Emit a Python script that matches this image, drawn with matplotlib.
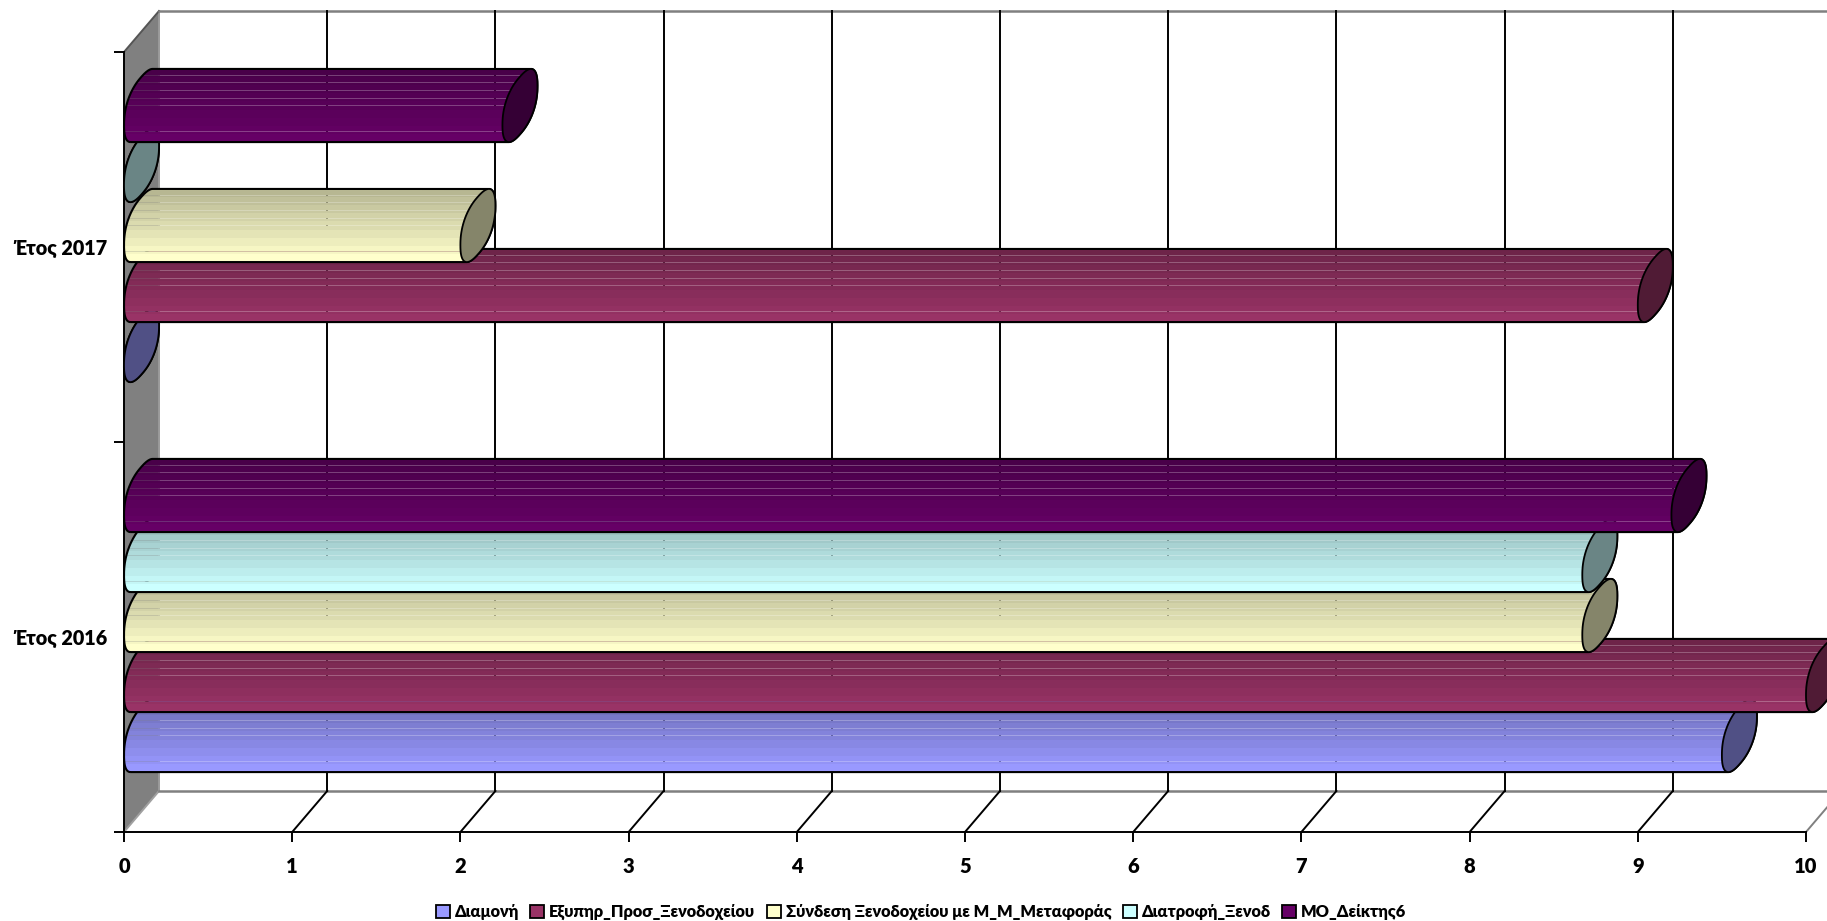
import numpy as np
import matplotlib
matplotlib.use("Agg")
import matplotlib.pyplot as plt
from matplotlib.patches import Patch, Polygon, PathPatch
from matplotlib.path import Path

plt.rcParams["font.family"] = ["Lato", "Open Sans", "DejaVu Sans"]
plt.rcParams["font.weight"] = "heavy"

categories = ["Έτος 2016", "Έτος 2017"]
series_names = ["Διαμονή", "Εξυπηρ_Προσ_Ξενοδοχείου", "Σύνδεση Ξενοδοχείου με Μ_Μ_Μεταφοράς",
                "Διατροφή_Ξενοδ", "ΜΟ_Δείκτης6"]
diamoni = [9.5, 0]
exypir = [10, 9]
syndesi = [8.67, 2]
diatrofi = [8.67, 0]
mo_deiktis = [9.2, 2.25]
series_values = [diamoni, exypir, syndesi, diatrofi, mo_deiktis]
colors = ["#9999FF", "#993366", "#FFFFCC", "#CCFFFF", "#660066"]
x_ticks = list(range(11))

fig = plt.figure(figsize=(18.27, 9.21), dpi=100)
ax = fig.add_axes([124 / 1827, 89 / 921, 1682 / 1827, 780 / 921])
ax.patch.set_visible(False)

# oblique 3d offset of the back wall, in data units
DX = 35 / 168.2
DY = 41 / 390
BAR_H = 1 / 6.5
GAP = 0.75 * BAR_H + 1 / 390
WALL = "#808080"

# walls and grid
ax.add_patch(Polygon([(0, 0), (0, 2), (DX, 2 + DY), (DX, DY)], fc=WALL, ec="none", zorder=1, clip_on=False))
ax.plot([DX, DX], [DY, 2 + DY], color="#9a9a9a", lw=1.4, zorder=1.1, clip_on=False)
ax.plot([0, DX], [2, 2 + DY], color="#555555", lw=1.4, zorder=1.1, clip_on=False)
ax.plot([0, DX], [0, DY], color="#a0a0a0", lw=1.4, zorder=1.1, clip_on=False)
ax.plot([DX, 10 + DX], [2 + DY, 2 + DY], color=WALL, lw=1.8, zorder=1.1, clip_on=False)
ax.plot([DX, 10 + DX], [DY, DY], color=WALL, lw=1.8, zorder=1.1, clip_on=False)
for t in x_ticks[1:]:
    ax.plot([t + DX, t + DX], [DY, 2 + DY], color="black", lw=1.4, zorder=1.2, clip_on=False)
    ax.plot([t, t + DX], [0, DY], color=WALL if t == 10 else "black", lw=1.4, zorder=1.2, clip_on=False)

streaks = [0.10, 0.19, 0.30, 0.41, 0.51, 0.86]

# the end caps in the picture are blobbier than a true ellipse
ts = np.linspace(0, 2 * np.pi, 241)[:-1]
us = np.sign(np.cos(ts)) * np.abs(np.cos(ts)) ** 0.85
vs = np.sign(np.sin(ts)) * np.abs(np.sin(ts)) ** 0.85
cap_x = 0.5 * vs * DX
cap_y = 0.96 * 0.5 * (us * BAR_H + vs * DY)
i_top = int(np.argmax(cap_y))
i_low = int(np.argmin(cap_y))
# walk from the top point through the left side to the lowest point
left_idx = np.arange(i_low, i_top + len(ts) + 1) % len(ts) if i_low > i_top else np.arange(i_low, i_top + 1)
right_idx = np.arange(i_top, i_low + 1) if i_low > i_top else np.arange(i_top, i_low + len(ts) + 1) % len(ts)


def gradient(color):
    rgb = np.array(matplotlib.colors.to_rgb(color))
    rows = 74
    img = np.ones((rows, 1, 4))
    for r in range(rows):
        band = np.floor(r / rows * 9) / 8
        img[r, 0, :3] = rgb * (0.72 + 0.28 * band)
    for f in streaks:
        img[int(f * rows), 0, 3] = 0.75
    return img


def draw_bar(value, low, color, z):
    cx = DX / 2
    cy = low + BAR_H / 2 + DY / 2
    left = np.column_stack([cx + cap_x[left_idx], cy + cap_y[left_idx]])
    right = np.column_stack([value + cx + cap_x[right_idx], cy + cap_y[right_idx]])
    pts = np.vstack([left, right, left[:1]])
    body = PathPatch(Path(pts), fc="none", ec="black", lw=1.5, zorder=z + 0.01, clip_on=False)
    ax.add_patch(body)
    if value > 0:
        im = ax.imshow(gradient(color), extent=[0, value + DX, cy + cap_y.min(), cy + cap_y.max()], aspect="auto",
                       interpolation="nearest", zorder=z)
        im.set_clip_box(fig.bbox)
        im.set_clip_path(body)
    cap = np.column_stack([value + cx + cap_x, cy + cap_y])
    ax.add_patch(Polygon(cap, fc=np.array(matplotlib.colors.to_rgb(color)) * 0.52, ec="black", lw=1.3,
                         zorder=z + 0.02, clip_on=False))


for c in range(len(categories)):
    for i, vals in enumerate(series_values):
        draw_bar(vals[c], c + GAP + i * BAR_H, colors[i], 3 + i * 0.1)

ax.set_xlim(0, 10)
ax.set_ylim(0, 2)

ax.spines["top"].set_visible(False)
ax.spines["right"].set_visible(False)
ax.spines["left"].set_linewidth(1.4)
ax.spines["bottom"].set_linewidth(1.4)
ax.spines["left"].set_zorder(2)
ax.set_xticks(x_ticks)
ax.set_yticks([0, 1, 2])
ax.set_yticklabels([])
ax.set_yticks([0.5, 1.5], minor=True)
ax.set_yticklabels(categories, minor=True, fontsize=14.2)
ax.tick_params(axis="y", which="minor", length=0, pad=12)
ax.tick_params(axis="both", which="major", length=7, width=1.4)
ax.tick_params(axis="x", labelsize=14.5, pad=11)

handles = [Patch(fc=c, ec="black", lw=1.3) for c in colors]
fig.legend(handles, series_names, loc="center", bbox_to_anchor=(921 / 1827, 1 - 912 / 921), ncol=5, frameon=False,
           fontsize=11.75, handlelength=0.85, handleheight=0.85, handletextpad=0.3, columnspacing=0.7,
           borderpad=0, borderaxespad=0)

fig.savefig("out.png", dpi=100)
